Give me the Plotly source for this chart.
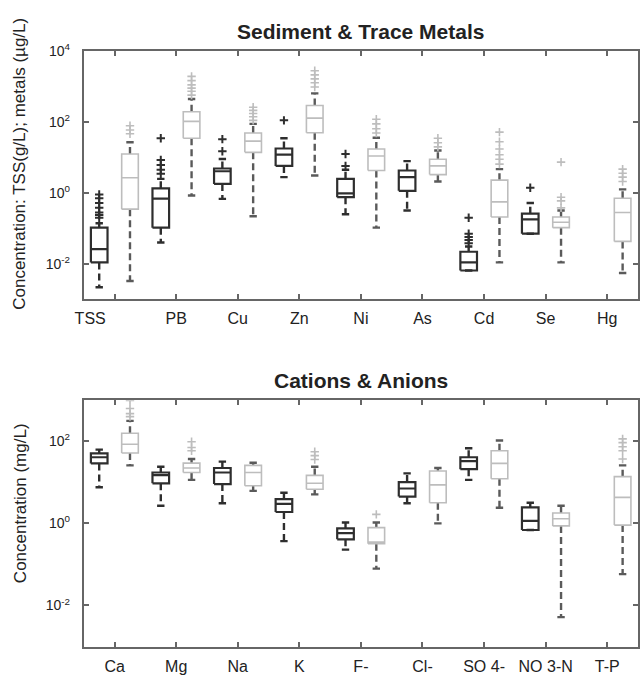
import plotly.graph_objects as go

W, H = 640, 675

# ---------------- Sediment & Trace Metals ----------------
top_cats = ["TSS", "PB", "Cu", "Zn", "Ni", "As", "Cd", "Se", "Hg"]
# dark series (None = no box)
top_dark_lo = [0.0022, 0.04, 0.68, 2.8, 0.25, 0.32, 0.0065, 0.071, None]
top_dark_q1 = [0.011, 0.105, 1.8, 5.8, 0.76, 1.15, 0.0065, 0.071, None]
top_dark_med = [0.026, 0.69, 4.1, 12, 0.98, 2.8, 0.011, 0.18, None]
top_dark_q3 = [0.105, 1.35, 4.9, 18, 2.5, 4.3, 0.022, 0.26, None]
top_dark_hi = [0.14, 2.5, 9.1, 35, 4.5, 7.9, 0.031, 0.52, None]
top_dark_out = [[0.2, 0.24, 0.28, 0.38, 0.52, 0.71, 0.91], [3.5, 4.5, 6.2, 8.5, 35],
                [15, 33], [112], [5.8, 12.6], [], [0.038, 0.047, 0.057, 0.071, 0.2],
                [1.4], []]
# light series
top_light_lo = [0.0033, 0.85, 0.22, 3.1, 0.105, 2.1, 0.011, 0.011, 0.0055]
top_light_q1 = [0.35, 35, 14, 50, 4.3, 3.3, 0.21, 0.105, 0.043]
top_light_med = [2.7, 105, 29, 129, 11, 5.8, 0.56, 0.15, 0.28]
top_light_q3 = [12.6, 195, 49, 295, 17.4, 8.9, 2.3, 0.21, 0.71]
top_light_hi = [27, 450, 89, 645, 36, 15.8, 4.7, 0.32, 1.26]
top_light_out = [[47, 60, 79], [575, 740, 910, 1120, 1480, 1950],
                 [112, 141, 174, 214, 263], [980, 1290, 1660, 2140, 2820],
                 [49, 65, 89, 120], [20, 26, 35], [6.5, 8.9, 12, 17.4, 28, 52],
                 [0.38, 0.6, 0.76, 7.4], [2.1, 2.8, 3.6, 4.7]]

# ---------------- Cations & Anions ----------------
bot_cats = ["Ca", "Mg", "Na", "K", "F-", "Cl-", "SO 4-", "NO 3-N", "T-P"]
bot_dark_lo = [7.6, 2.7, 3.1, 0.37, 0.23, 3.1, 11.5, 0.69, None]
bot_dark_q1 = [29, 9.5, 9.1, 1.9, 0.41, 4.5, 21, 0.69, None]
bot_dark_med = [41, 15, 17.4, 3.0, 0.58, 7.1, 33, 1.15, None]
bot_dark_q3 = [51, 17.4, 22.4, 3.9, 0.76, 10.2, 41, 2.45, None]
bot_dark_hi = [63, 24, 32, 5.6, 1.05, 16.6, 68, 3.2, None]
bot_dark_out = [[], [], [], [], [], [], [], [], []]
bot_light_lo = [26, 11.5, 6.2, 5.1, 0.079, 1.0, 2.4, 0.0052, 0.058]
bot_light_q1 = [52, 17.4, 8.3, 6.8, 0.32, 3.2, 12.3, 0.87, 0.91]
bot_light_med = [85, 22.4, 17.4, 9.5, 0.35, 8.7, 29, 1.3, 4.3]
bot_light_q3 = [158, 29.5, 26, 14.8, 0.79, 19, 59, 1.8, 13.8]
bot_light_hi = [316, 37, 30, 24, 1.05, 22.4, 105, 2.7, 26]
bot_light_out = [[400, 475, 630, 1000], [59, 71, 98], [], [36, 45, 56], [1.66],
                 [], [], [], [37, 59, 74, 93, 115]]

DARK = "#2e2e2e"
LIGHT = "#bdbdbd"
WHISK_LIGHT = "#5a5a5a"
FONT = "Liberation Sans, Arial, sans-serif"

fig = go.Figure()


def add_series(xa, ya, offset, lo, q1, med, q3, hi, outs, color, wcolor, ocolor,
               blw, osize, olw):
    hw, cw = 0.27, 0.12
    bx, by, mx, my, wx, wy, cx, cy, ox, oy = ([] for _ in range(10))
    for i in range(len(q1)):
        if q1[i] is None:
            continue
        x = 2 * i + offset
        bx += [x - hw, x + hw, x + hw, x - hw, x - hw, None]
        by += [q1[i], q1[i], q3[i], q3[i], q1[i], None]
        mx += [x - hw, x + hw, None]
        my += [med[i], med[i], None]
        if hi[i] > q3[i]:
            wx += [x, x, None]
            wy += [q3[i], hi[i], None]
        if lo[i] < q1[i]:
            wx += [x, x, None]
            wy += [q1[i], lo[i], None]
        cx += [x - cw, x + cw, None, x - cw, x + cw, None]
        cy += [hi[i], hi[i], None, lo[i], lo[i], None]
        for v in outs[i]:
            ox.append(x)
            oy.append(v)
    common = dict(xaxis=xa, yaxis=ya, showlegend=False, hoverinfo="skip")
    fig.add_trace(go.Scatter(x=wx, y=wy, mode="lines",
                             line=dict(color=wcolor, width=2.4, dash="7px,4px"), **common))
    fig.add_trace(go.Scatter(x=cx, y=cy, mode="lines",
                             line=dict(color=wcolor, width=2.4), **common))
    fig.add_trace(go.Scatter(x=bx, y=by, mode="lines",
                             line=dict(color=color, width=blw), **common))
    fig.add_trace(go.Scatter(x=mx, y=my, mode="lines",
                             line=dict(color=color, width=blw), **common))
    fig.add_trace(go.Scatter(x=ox, y=oy, mode="markers",
                             marker=dict(symbol="cross-thin", size=osize,
                                         line=dict(color=ocolor, width=olw)), **common))


add_series("x", "y", 1, top_dark_lo, top_dark_q1, top_dark_med, top_dark_q3,
           top_dark_hi, top_dark_out, DARK, DARK, DARK, 2.2, 6, 2)
add_series("x", "y", 2, top_light_lo, top_light_q1, top_light_med, top_light_q3,
           top_light_hi, top_light_out, LIGHT, WHISK_LIGHT, LIGHT, 1.6, 6, 1.6)
add_series("x2", "y2", 1, bot_dark_lo, bot_dark_q1, bot_dark_med, bot_dark_q3,
           bot_dark_hi, bot_dark_out, DARK, DARK, DARK, 2.2, 6, 2)
add_series("x2", "y2", 2, bot_light_lo, bot_light_q1, bot_light_med, bot_light_q3,
           bot_light_hi, bot_light_out, LIGHT, WHISK_LIGHT, LIGHT, 1.6, 6, 1.6)

tickvals_x = [2 * i + 1.5 for i in range(9)]
top_ticktext = [top_cats[0] + "\u00a0" * 11] + top_cats[1:]

xdom = [76 / W, 639 / W]
axis_common = dict(showline=True, mirror="ticks", linecolor="#666", linewidth=2,
                   ticks="inside", ticklen=5, tickcolor="#666", tickwidth=1.5,
                   showgrid=False, zeroline=False)


def ydom(top_px, bot_px):
    return [(H - bot_px) / H, (H - top_px) / H]


fig.update_layout(
    width=W, height=H, margin=dict(l=0, r=0, t=0, b=0),
    paper_bgcolor="white", plot_bgcolor="white",
    font=dict(family=FONT, color="#222"),
    xaxis=dict(domain=xdom, anchor="y", range=[0.5, 18.5], tickvals=tickvals_x,
               ticktext=top_ticktext, tickfont=dict(size=16, color="#222"),
               ticklabelstandoff=3, **axis_common),
    yaxis=dict(domain=ydom(42, 295), anchor="x", type="log", range=[-3, 4],
               tickvals=[0.01, 1, 100, 10000],
               ticktext=["10<sup>-2</sup>", "10<sup>0</sup>", "10<sup>2</sup>", "10<sup>4</sup>"],
               tickfont=dict(size=14, color="#222"), ticklabelstandoff=9, **axis_common),
    xaxis2=dict(domain=xdom, anchor="y2", range=[0.5, 18.5], tickvals=tickvals_x,
                ticktext=bot_cats, tickfont=dict(size=16, color="#222"),
                ticklabelstandoff=4, **axis_common),
    yaxis2=dict(domain=ydom(398, 649), anchor="x2", type="log", range=[-3, 3],
                tickvals=[0.01, 1, 100],
                ticktext=["10<sup>-2</sup>", "10<sup>0</sup>", "10<sup>2</sup>"],
                tickfont=dict(size=14, color="#222"), ticklabelstandoff=9, **axis_common),
    annotations=[
        dict(text="<b>Sediment & Trace Metals</b>", x=(xdom[0] + xdom[1]) / 2,
             y=1 - 22 / H, xref="paper", yref="paper", showarrow=False,
             xanchor="center", yanchor="middle", font=dict(size=21, color="#222")),
        dict(text="<b>Cations & Anions</b>", x=(xdom[0] + xdom[1]) / 2,
             y=1 - 378 / H, xref="paper", yref="paper", showarrow=False,
             xanchor="center", yanchor="middle", font=dict(size=21, color="#222")),
        dict(text="Concentration: TSS(g/L); metals (µg/L)", x=11 / W,
             y=1 - 157 / H, xref="paper", yref="paper", showarrow=False,
             textangle=-90, xanchor="center", yanchor="middle",
             font=dict(size=17, color="#222")),
        dict(text="Concentration (mg/L)", x=11 / W, y=1 - 503 / H,
             xref="paper", yref="paper", showarrow=False, textangle=-90,
             xanchor="center", yanchor="middle", font=dict(size=17, color="#222")),
    ],
)

fig.write_html("out.html")
